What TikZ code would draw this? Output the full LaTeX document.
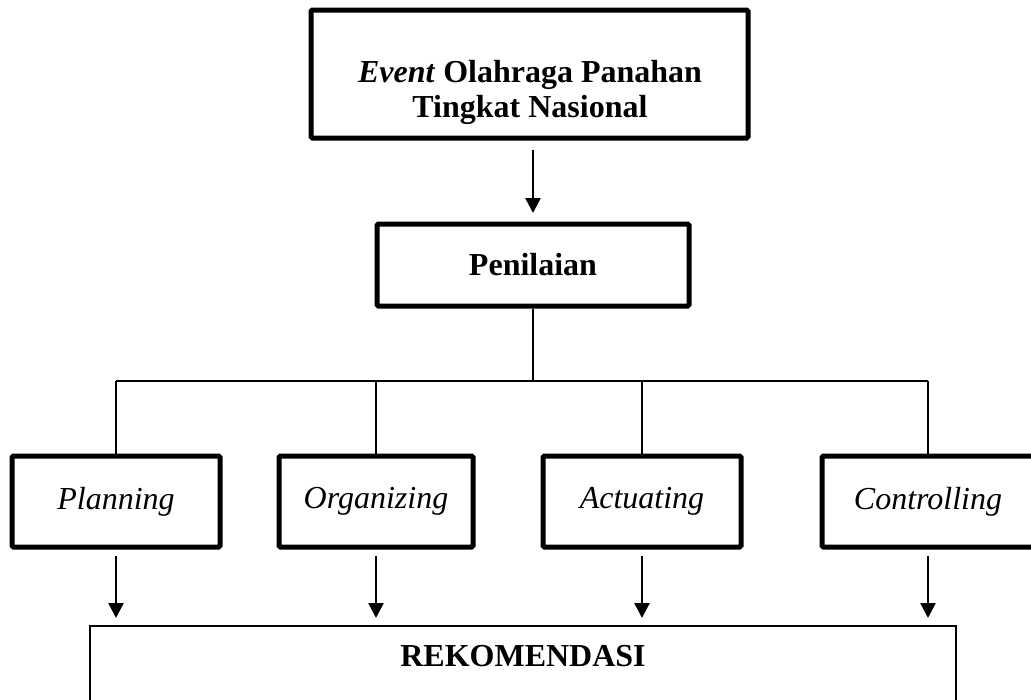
\documentclass[tikz,border=0pt]{standalone}
\usepackage{fontspec}
\setmainfont{Liberation Serif}
\usetikzlibrary{arrows.meta}

\begin{document}
\begin{tikzpicture}[x=1pt,y=-1pt,
  box/.style={draw,line width=5pt,rounded corners=1.5pt,inner sep=0pt},
  link/.style={line width=2pt},
  down/.style={line width=2.5pt,-{Triangle[length=15pt,width=15pt]}},
  every node/.style={font=\fontsize{32}{35}\selectfont}]
  \useasboundingbox (0,0) rectangle (1031,699);
  \clip (0,0) rectangle (1031,699);

  % Event (top)
  \node[box,minimum width=437pt,minimum height=128pt] (event) at (529.5,74) {};
  \node[align=center,font=\fontsize{32}{35}\selectfont\bfseries] (eventtxt) at (530,92) {\textit{Event} Olahraga Panahan\\Tingkat Nasional};

  % Penilaian
  \node[box,minimum width=312pt,minimum height=82pt,font=\fontsize{32}{35}\selectfont\bfseries] (pen) at (533,265) {Penilaian};
  \draw[down,shorten <=9.5pt,shorten >=8.5pt] (event.south -| pen.north) -- (pen.north);

  % Four aspects
  \node[box,minimum width=208pt,minimum height=91pt,font=\fontsize{32}{35}\selectfont\itshape] (plan) at (116,501.5) {Planning};
  \node[box,minimum width=194pt,minimum height=91pt,font=\fontsize{32}{35}\selectfont\itshape] (org) at (376,501.5) {Organizing};
  \node[box,minimum width=198pt,minimum height=91pt,font=\fontsize{32}{35}\selectfont\itshape] (act) at (642,501.5) {Actuating};
  \node[box,minimum width=212pt,minimum height=91pt,font=\fontsize{32}{35}\selectfont\itshape] (ctrl) at (928,501.5) {Controlling};

  % Branch lines
  \coordinate (hub) at (533,381);
  \draw[link] (pen.south) -- (hub);
  \draw[link] (plan.north |- hub) -- (ctrl.north |- hub);
  \foreach \n in {plan,org,act,ctrl}
    \draw[link] (\n.north) -- (\n.north |- hub);

  % Rekomendasi (bottom)
  \node[draw,line width=2pt,inner sep=0pt,minimum width=866pt,minimum height=150pt] (rek) at (523,701) {};
  \node[font=\fontsize{32}{35}\selectfont\bfseries] (rektxt) at (523,656.5) {REKOMENDASI};
  \foreach \n in {plan,org,act,ctrl}
    \draw[down,shorten <=6pt,shorten >=7pt] (\n.south) -- (\n.south |- rek.north);
\end{tikzpicture}
\end{document}
